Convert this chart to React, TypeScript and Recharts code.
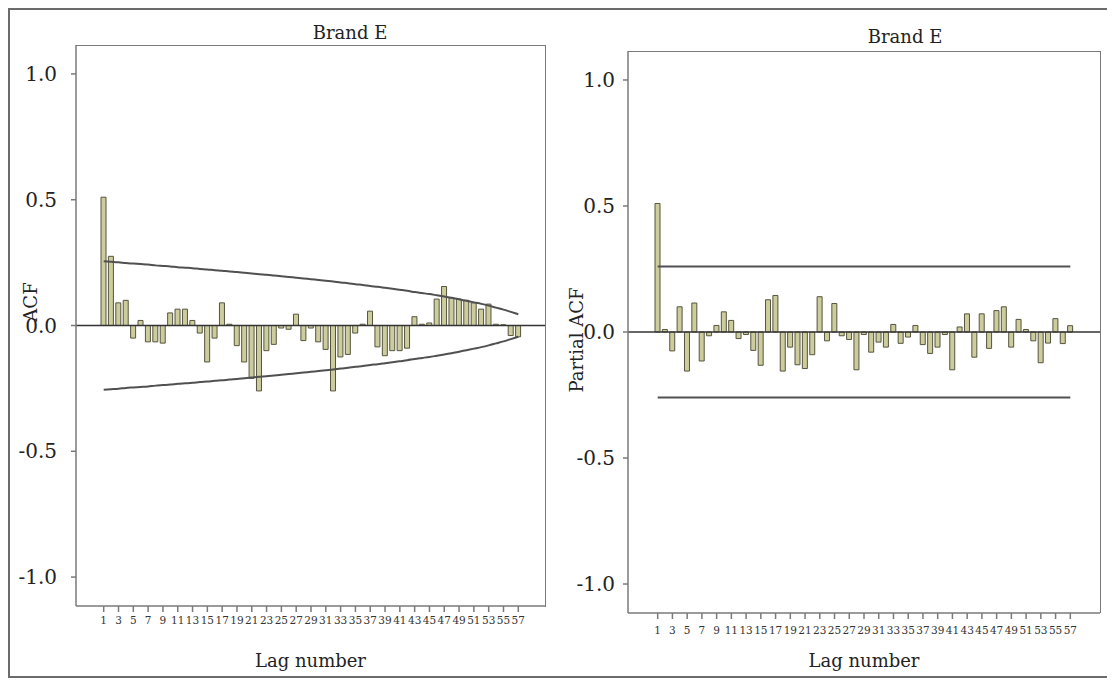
import {
  ComposedChart,
  Bar,
  Line,
  XAxis,
  YAxis,
  ReferenceLine,
} from "recharts";

// lag numbers 1..57
const lags: number[] = Array.from({ length: 57 }, (_, i) => i + 1);

// ACF values
const acfValues: number[] = [
  0.51, 0.275, 0.09, 0.1, -0.05, 0.02, -0.065, -0.065, -0.07, 0.05,
  0.065, 0.065, 0.02, -0.03, -0.145, -0.05, 0.09, 0.005, -0.08, -0.145,
  -0.21, -0.26, -0.1, -0.075, -0.01, -0.015, 0.045, -0.06, -0.01, -0.065,
  -0.095, -0.26, -0.125, -0.115, -0.03, 0.005, 0.057, -0.085, -0.12, -0.1,
  -0.1, -0.09, 0.035, 0.005, 0.01, 0.105, 0.155, 0.11, 0.105, 0.1,
  0.09, 0.065, 0.085, 0.005, 0.003, -0.04, -0.045,
];

// upper confidence limit of the ACF (lower one is its mirror)
const acfLimit: number[] = [
  0.255, 0.253, 0.251, 0.248, 0.246, 0.244, 0.242, 0.239, 0.237, 0.235,
  0.232, 0.23, 0.228, 0.225, 0.223, 0.22, 0.218, 0.215, 0.213, 0.21,
  0.207, 0.204, 0.202, 0.199, 0.196, 0.193, 0.19, 0.187, 0.184, 0.181,
  0.178, 0.175, 0.171, 0.168, 0.164, 0.161, 0.157, 0.154, 0.15, 0.146,
  0.142, 0.138, 0.133, 0.129, 0.125, 0.12, 0.115, 0.11, 0.104, 0.098,
  0.092, 0.086, 0.079, 0.071, 0.063, 0.054, 0.045,
];

// Partial ACF values
const pacfValues: number[] = [
  0.51, 0.01, -0.075, 0.1, -0.155, 0.115, -0.115, -0.015, 0.026, 0.08,
  0.046, -0.026, -0.01, -0.073, -0.132, 0.128, 0.145, -0.155, -0.06, -0.13,
  -0.145, -0.09, 0.14, -0.035, 0.113, -0.015, -0.03, -0.15, -0.01, -0.08,
  -0.04, -0.06, 0.03, -0.045, -0.02, 0.026, -0.05, -0.085, -0.06, -0.01,
  -0.15, 0.02, 0.072, -0.1, 0.072, -0.065, 0.085, 0.1, -0.06, 0.05,
  0.01, -0.035, -0.122, -0.044, 0.053, -0.046, 0.025,
];

const pacfLimit = 0.26;

const yTicks = [-1, -0.5, 0, 0.5, 1];

const acfData = lags.map((lag, i) => ({
  lag,
  value: acfValues[i],
  upper: acfLimit[i],
  lower: -acfLimit[i],
}));

const pacfData = lags.map((lag, i) => ({
  lag,
  value: pacfValues[i],
  upper: pacfLimit,
  lower: -pacfLimit,
}));

const serif = "'DejaVu Serif', 'Liberation Serif', serif";
const boxColor = "#7a7a7a";
const barFill = "#cdcc9c";
const barStroke = "#55553f";
const limitColor = "#505050";

interface PanelProps {
  data: { lag: number; value: number; upper: number; lower: number }[];
  width: number;
  height: number;
  margin: { top: number; right: number; left: number; bottom: number };
  yWidth: number;
  xHeight: number;
  padding: { left: number; right: number };
  tickMarginX: number;
  tickMarginY: number;
  curved: boolean;
}

function Panel({
  data,
  width,
  height,
  margin,
  yWidth,
  xHeight,
  padding,
  tickMarginX,
  tickMarginY,
  curved,
}: PanelProps) {
  return (
    <ComposedChart width={width} height={height} data={data} margin={margin}>
      <XAxis
        dataKey="lag"
        type="category"
        interval={1}
        padding={padding}
        height={xHeight}
        stroke={boxColor}
        strokeWidth={1.5}
        tickSize={6}
        tickMargin={tickMarginX}
        tick={{ fontSize: 10.5, fontFamily: serif, fill: "#333" }}
        label={{
          value: "Lag number",
          position: "insideBottom",
          offset: 7,
          fontSize: 18,
          fontFamily: serif,
          fill: "#222",
        }}
      />
      <YAxis
        domain={[-1.115, 1.115]}
        ticks={yTicks}
        width={yWidth}
        stroke={boxColor}
        strokeWidth={1.5}
        tickSize={5}
        tickMargin={tickMarginY}
        tickFormatter={(v: number) => v.toFixed(1)}
        tick={{ fontSize: 20, fontFamily: serif, fill: "#222" }}
      />
      <ReferenceLine y={0} stroke="#333" strokeWidth={1.5} />
      <Bar
        dataKey="value"
        barSize={5}
        fill={barFill}
        stroke={barStroke}
        strokeWidth={1}
        isAnimationActive={false}
      />
      <Line
        dataKey="upper"
        type={curved ? "monotone" : "linear"}
        stroke={limitColor}
        strokeWidth={2}
        dot={false}
        isAnimationActive={false}
      />
      <Line
        dataKey="lower"
        type={curved ? "monotone" : "linear"}
        stroke={limitColor}
        strokeWidth={2}
        dot={false}
        isAnimationActive={false}
      />
    </ComposedChart>
  );
}

const titleStyle: React.CSSProperties = {
  position: "absolute",
  transform: "translate(-50%, -50%)",
  fontFamily: serif,
  fontSize: 18,
  color: "#222",
  whiteSpace: "nowrap",
};

const yTitleStyle: React.CSSProperties = {
  position: "absolute",
  transform: "translate(-50%, -50%) rotate(-90deg)",
  fontFamily: serif,
  fontSize: 18,
  color: "#222",
  whiteSpace: "nowrap",
};

// plot frames (top / right edges of each panel)
const frameStyle: React.CSSProperties = {
  position: "absolute",
  borderTop: `1.5px solid ${boxColor}`,
  borderRight: `1.5px solid ${boxColor}`,
  boxSizing: "border-box",
  pointerEvents: "none",
};

export default function App() {
  return (
    <div
      style={{
        position: "relative",
        width: 1105,
        height: 670,
        border: "2px solid #6b6b6b",
        boxSizing: "border-box",
        background: "#fff",
      }}
    >
      <div style={{ position: "absolute", left: 0, top: 0 }}>
        <Panel
          data={acfData}
          width={560}
          height={664}
          margin={{ top: 35, right: 25, left: 0, bottom: 0 }}
          yWidth={66}
          xHeight={68}
          padding={{ left: 24, right: 23 }}
          tickMarginX={5}
          tickMarginY={14}
          curved
        />
      </div>
      <div style={{ position: "absolute", left: 560, top: 0 }}>
        <Panel
          data={pacfData}
          width={533}
          height={664}
          margin={{ top: 41, right: 3, left: 0, bottom: 0 }}
          yWidth={58}
          xHeight={61}
          padding={{ left: 26, right: 26 }}
          tickMarginX={8}
          tickMarginY={8}
          curved={false}
        />
      </div>
      <div style={{ ...frameStyle, left: 66, top: 35, width: 470, height: 562 }} />
      <div style={{ ...frameStyle, left: 618, top: 41, width: 473, height: 562 }} />
      <div style={{ ...titleStyle, left: 340, top: 22 }}>Brand E</div>
      <div style={{ ...titleStyle, left: 895, top: 26 }}>Brand E</div>
      <div style={{ ...yTitleStyle, left: 20, top: 292 }}>ACF</div>
      <div style={{ ...yTitleStyle, left: 566, top: 330 }}>Partial ACF</div>
    </div>
  );
}
